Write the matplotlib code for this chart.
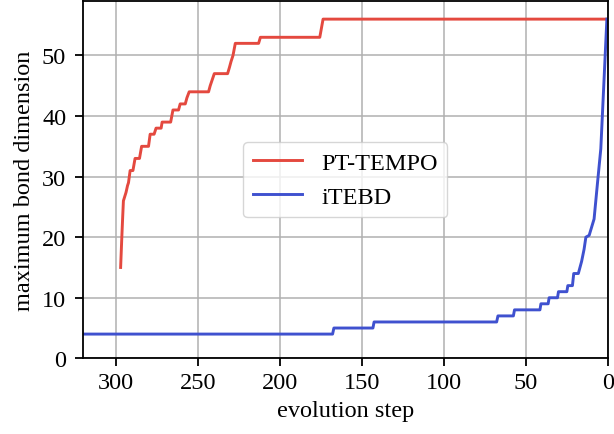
import matplotlib
matplotlib.use('Agg')
import matplotlib.pyplot as plt

# PT-TEMPO: (evolution step, max bond dimension)
tempo_steps = [297, 296.3, 295.7, 295.3, 294.5, 293.7, 292.8, 292.2, 291.2, 289.5, 288.2,
               285.5, 284.2, 280.0, 279.0, 276.6, 275.4, 272.3, 271.7, 266.5, 265.1,
               261.7, 260.7, 257.6, 256.6, 255.2, 243.4, 242.4, 239.9, 231.8, 230.7,
               229.7, 228.5, 227.1, 212.9, 211.8, 175.6, 173.6, 0]
tempo_bond = [15, 19.8, 23.6, 26, 26.7, 27.4, 28.5, 29, 31, 31, 33,
              33, 35, 35, 37, 37, 38, 38, 39, 39, 41,
              41, 42, 42, 43, 44, 44, 45, 47, 47, 48,
              49, 50, 52, 52, 53, 53, 56, 56]

# iTEBD
itebd_steps = [330, 167.8, 167.0, 143.2, 142.5, 67.8, 67.0, 57.6, 56.9, 41.4, 40.8,
               36.4, 35.8, 30.7, 30.1, 25.0, 24.4, 21.6, 20.8, 18.0, 16.0, 14.5,
               13.4, 11.4, 8.4, 6.3, 4.3, 2.5, 0.6]
itebd_bond = [4, 4, 5, 5, 6, 6, 7, 7, 8, 8, 9,
              9, 10, 10, 11, 11, 12, 12, 14, 14, 16, 18,
              20, 20.3, 23, 29, 34.6, 45, 56]

plt.rcParams['font.family'] = ['Liberation Serif', 'DejaVu Serif']
plt.rcParams['font.size'] = 17.5

fig = plt.figure(figsize=(6.14, 4.35), dpi=100)
ax = fig.add_axes([0.135, 0.174, 0.855, 0.8215])

ax.plot(tempo_steps, tempo_bond, color='#e4493f', lw=2.1, label='PT-TEMPO')
ax.plot(itebd_steps, itebd_bond, color='#3f51cf', lw=2.1, label='iTEBD')

ax.set_xlim(320, 0)
ax.set_ylim(0, 59)
ax.set_xticks([300, 250, 200, 150, 100, 50, 0])
ax.set_yticks([0, 10, 20, 30, 40, 50])
ax.grid(True, color='#b0b0b0', lw=1.1)
ax.set_axisbelow(True)
for s in ax.spines.values():
    s.set_linewidth(1.3)
ax.tick_params(width=1.3, length=5.5)
ax.tick_params(axis='y', pad=6.5)
ax.tick_params(axis='x', pad=4.5)

ax.set_xlabel('evolution step', labelpad=5)
ax.set_ylabel('maximum bond dimension', labelpad=5)
ax.legend(loc='center', framealpha=0.8)

fig.savefig('out.png', dpi=100)
